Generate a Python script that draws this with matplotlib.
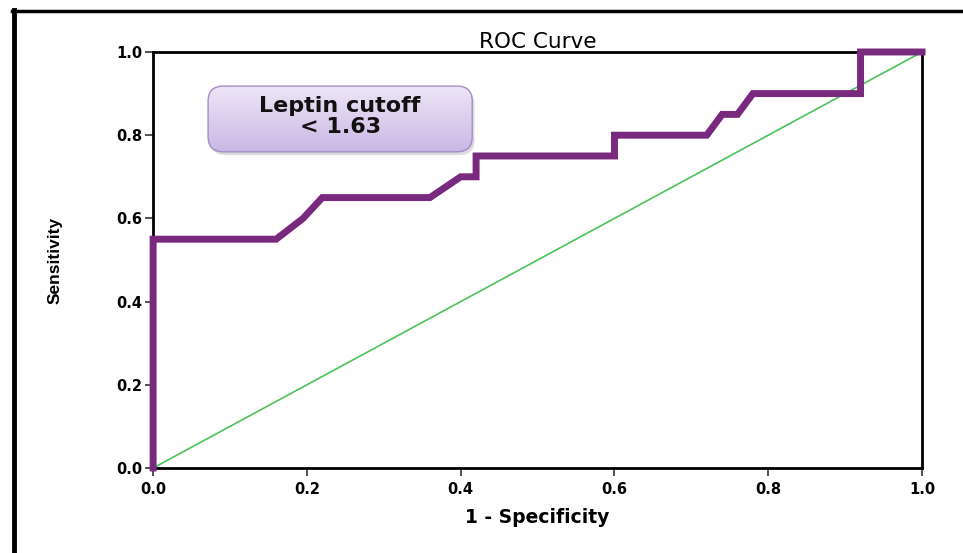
import matplotlib.pyplot as plt
import numpy as np
from matplotlib.patches import FancyBboxPatch
from matplotlib.lines import Line2D

# ROC curve points (1 - specificity, sensitivity)
fpr = [0.0, 0.0, 0.16, 0.195, 0.22, 0.36, 0.40, 0.42, 0.42, 0.60, 0.60,
       0.72, 0.74, 0.76, 0.78, 0.92, 0.92, 1.0]
tpr = [0.0, 0.55, 0.55, 0.60, 0.65, 0.65, 0.70, 0.70, 0.75, 0.75, 0.80,
       0.80, 0.85, 0.85, 0.90, 0.90, 1.0, 1.0]
ref_line = [0.0, 1.0]
ticks = [0.0, 0.2, 0.4, 0.6, 0.8, 1.0]
tick_labels = ["0.0", "0.2", "0.4", "0.6", "0.8", "1.0"]

plt.rcParams['font.family'] = ['DejaVu Sans']

fig = plt.figure(figsize=(9.63, 5.53), dpi=100)
ax = fig.add_axes([0.159, 0.1537, 0.7985, 0.7523])

ax.plot(ref_line, ref_line, color="#4cc35a", lw=1.2, zorder=2)
ax.plot(fpr, tpr, color="#7a2a7e", lw=5, solid_joinstyle="miter", zorder=3,
        clip_on=False)

ax.set_xlim(0, 1)
ax.set_ylim(0, 1)
ax.set_xticks(ticks)
ax.set_yticks(ticks)
ax.set_xticklabels(tick_labels, fontweight="bold", fontsize=10.5)
ax.set_yticklabels(tick_labels, fontweight="bold", fontsize=10.5)
ax.tick_params(axis="both", length=6, width=1.2, color="#333333", pad=2)
ax.tick_params(axis="x", pad=4)
for s in ax.spines.values():
    s.set_linewidth(2)
    s.set_color("black")

ax.set_title("ROC Curve", fontsize=15.5, pad=3)
ax.set_xlabel("1 - Specificity", fontweight="bold", fontsize=13.5)
ax.xaxis.set_label_coords(0.5, -0.096)
ax.set_ylabel("Sensitivity", fontweight="bold", fontsize=12.5,
              family=['Liberation Sans Narrow', 'Liberation Sans'])
ax.yaxis.set_label_coords(-0.118, 0.5)

# cutoff callout with a soft vertical gradient
x0, x1, y0, y1 = 0.0715, 0.415, 0.76, 0.918
shadow = FancyBboxPatch((x0 + 0.003, y0 - 0.008), x1 - x0, y1 - y0,
                        boxstyle="round,pad=0,rounding_size=0.02",
                        fc="#bbbbbb", ec="none", alpha=0.5, zorder=4,
                        mutation_aspect=1.8)
ax.add_patch(shadow)
box = FancyBboxPatch((x0, y0), x1 - x0, y1 - y0,
                     boxstyle="round,pad=0,rounding_size=0.02",
                     fc="none", ec="#a48cc8", lw=1, zorder=6,
                     mutation_aspect=1.8)
ax.add_patch(box)
grad = np.linspace(0, 1, 100).reshape(-1, 1)
top = np.array([0.93, 0.90, 0.97])
bottom = np.array([0.79, 0.72, 0.89])
img = top + (bottom - top) * grad[:, :, None]
im = ax.imshow(img, extent=(x0, x1, y0, y1), aspect="auto", zorder=5)
im.set_clip_path(box)
ax.set_xlim(0, 1)
ax.set_ylim(0, 1)
ax.text((x0 + x1) / 2, (y0 + y1) / 2 + 0.005, "Leptin cutoff\n< 1.63",
        ha="center", va="center", fontsize=16, fontweight="bold",
        color="#111111", linespacing=1.05, zorder=7)

# frame around the figure (left and top edges)
fig.add_artist(Line2D([14 / 963, 14 / 963], [0, 1 - 10 / 553], color="black",
                      lw=3.5, transform=fig.transFigure))
fig.add_artist(Line2D([12 / 963, 1], [1 - 11 / 553, 1 - 11 / 553],
                      color="black", lw=2.5, transform=fig.transFigure))

fig.savefig("out.png", dpi=100)
